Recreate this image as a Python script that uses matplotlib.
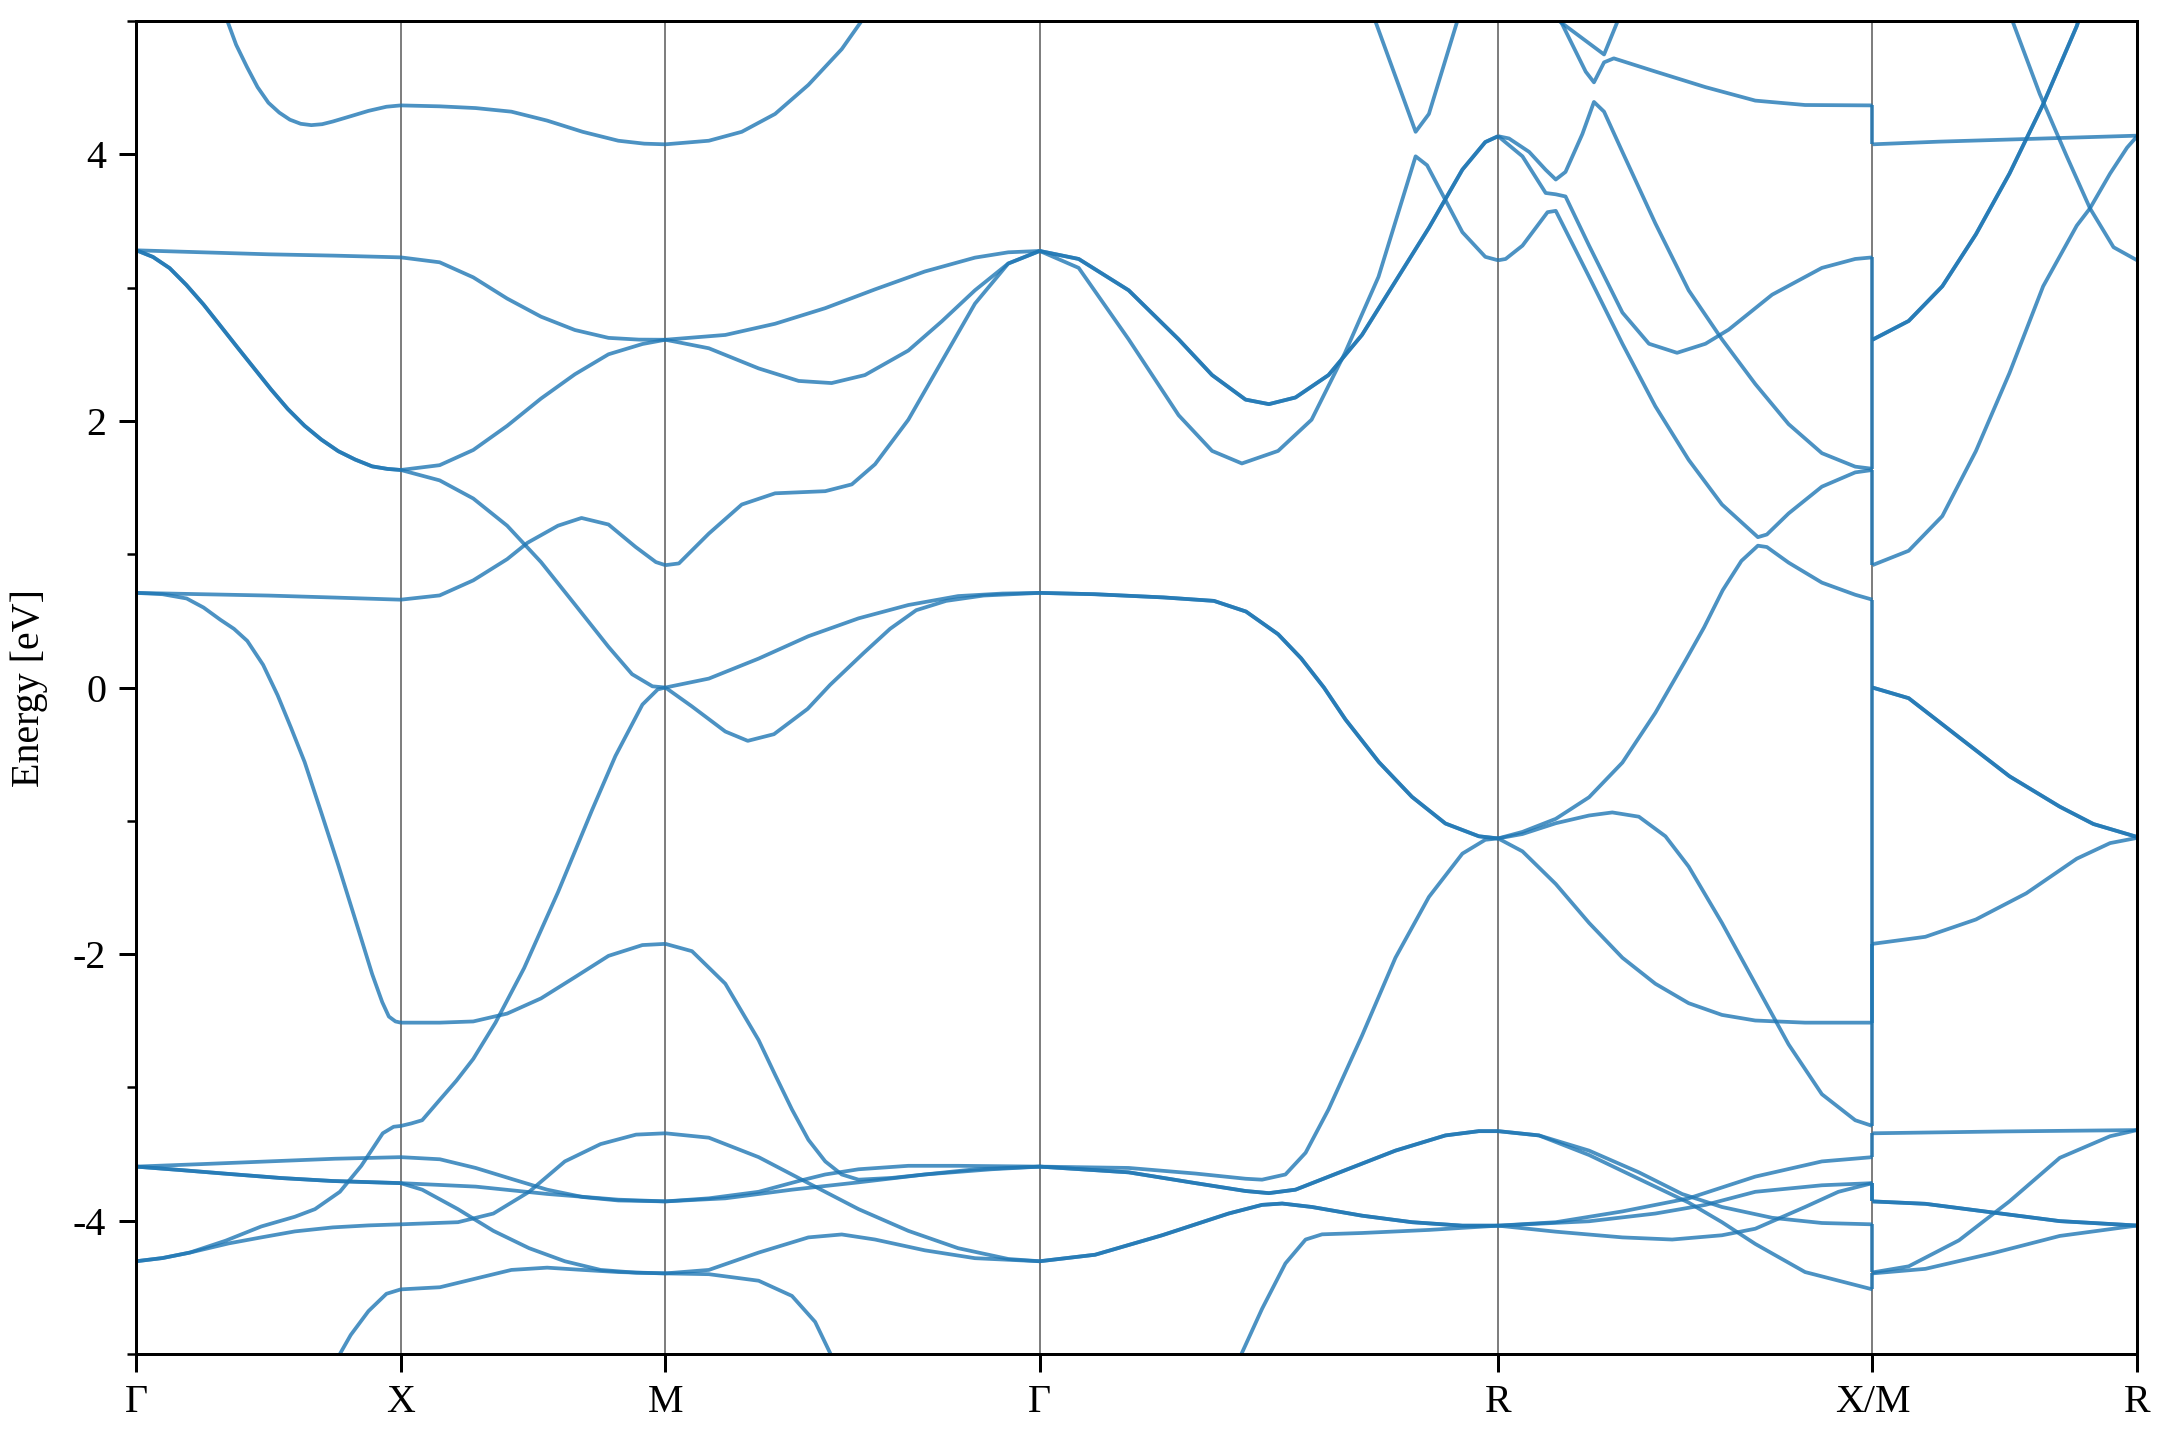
import numpy as np
import matplotlib.pyplot as plt
from matplotlib.ticker import MultipleLocator

plt.rcParams['font.family'] = ['Liberation Serif', 'DejaVu Serif']
plt.rcParams['axes.unicode_minus'] = False

# high symmetry path and segment lengths (1/a units)
labels = ['Γ', 'X', 'M', 'Γ', 'R', 'X/M', 'R']
seg_len = [0.5, 0.5, 0.7071, 0.8660, 0.7071, 0.5]

# each curve: [fraction along segment], [energy eV], number of overlapping bands
seg_GX = [
    ([0.32, 0.345, 0.378, 0.419, 0.459, 0.5, 0.541, 0.581, 0.622, 0.662, 0.703, 0.743, 0.811, 0.878, 0.946, 1.0],
     [5.12, 5.0, 4.822, 4.655, 4.504, 4.387, 4.313, 4.26, 4.229, 4.219, 4.226, 4.246, 4.286, 4.326, 4.357, 4.367], 1),
    ([0, 0.25, 0.5, 0.75, 1], [3.28, 3.265, 3.25, 3.24, 3.227], 1),
    ([0, 0.064, 0.127, 0.19, 0.255, 0.318, 0.382, 0.446, 0.51, 0.573, 0.637, 0.7, 0.764, 0.828, 0.892, 0.95, 1],
     [3.281, 3.23, 3.146, 3.02, 2.873, 2.715, 2.554, 2.395, 2.236, 2.09, 1.963, 1.86, 1.773, 1.71, 1.659, 1.64, 1.632], 2),
    ([0, 0.25, 0.5, 0.75, 1], [0.71, 0.70, 0.69, 0.675, 0.659], 1),
    ([0, 0.1, 0.191, 0.255, 0.318, 0.37, 0.42, 0.48, 0.535, 0.585, 0.637, 0.7, 0.764, 0.85, 0.892, 0.93, 0.955, 0.98, 1],
     [0.71, 0.70, 0.668, 0.6, 0.509, 0.44, 0.35, 0.17, -0.059, -0.3, -0.56, -0.94, -1.332, -1.88, -2.15, -2.36, -2.468, -2.505, -2.514], 1),
    ([0, 0.25, 0.5, 0.75, 1], [-3.594, -3.575, -3.555, -3.535, -3.523], 1),
    ([0, 0.17, 0.338, 0.55, 0.743, 1], [-3.594, -3.62, -3.647, -3.68, -3.702, -3.718], 2),
    ([0, 0.1, 0.203, 0.338, 0.473, 0.6, 0.676, 0.77, 0.851, 0.932, 0.973, 1],
     [-4.304, -4.28, -4.239, -4.15, -4.043, -3.97, -3.913, -3.783, -3.588, -3.344, -3.295, -3.289], 1),
    ([0, 0.1, 0.203, 0.35, 0.473, 0.6, 0.743, 0.878, 1],
     [-4.304, -4.28, -4.239, -4.17, -4.125, -4.08, -4.05, -4.035, -4.027], 1),
    ([0.74, 0.757, 0.811, 0.878, 0.946, 1], [-5.11, -5.045, -4.857, -4.678, -4.548, -4.515], 1),
]

seg_XM = [
    ([0, 0.148, 0.283, 0.418, 0.553, 0.687, 0.822, 0.92, 1], [4.367, 4.36, 4.347, 4.32, 4.253, 4.169, 4.102, 4.08, 4.075], 1),
    ([0, 0.147, 0.274, 0.402, 0.53, 0.658, 0.785, 0.9, 1], [3.227, 3.19, 3.077, 2.918, 2.782, 2.682, 2.623, 2.61, 2.609], 1),
    ([0, 0.147, 0.274, 0.402, 0.53, 0.658, 0.785, 0.913, 1], [1.632, 1.668, 1.782, 1.963, 2.168, 2.35, 2.5, 2.577, 2.609], 1),
    ([0, 0.147, 0.274, 0.402, 0.53, 0.658, 0.785, 0.874, 0.951, 1], [1.632, 1.554, 1.418, 1.214, 0.941, 0.623, 0.305, 0.1, 0.009, 0.0], 1),
    ([0, 0.147, 0.274, 0.402, 0.479, 0.594, 0.683, 0.785, 0.887, 0.964, 1],
     [0.659, 0.691, 0.804, 0.963, 1.086, 1.214, 1.272, 1.223, 1.055, 0.941, 0.918], 1),
    ([0, 0.147, 0.274, 0.402, 0.53, 0.658, 0.785, 0.913, 1], [-2.514, -2.514, -2.505, -2.446, -2.332, -2.173, -2.013, -1.932, -1.923], 1),
    ([0, 0.04, 0.081, 0.147, 0.21, 0.274, 0.358, 0.466, 0.594, 0.722, 0.811, 0.913, 0.971, 1],
     [-3.289, -3.27, -3.246, -3.094, -2.95, -2.786, -2.514, -2.105, -1.536, -0.923, -0.514, -0.128, -0.014, 0.0], 1),
    ([0, 0.148, 0.283, 0.418, 0.553, 0.687, 0.822, 1], [-3.523, -3.539, -3.604, -3.686, -3.767, -3.822, -3.848, -3.855], 1),
    ([0, 0.283, 0.553, 0.822, 1], [-3.718, -3.744, -3.799, -3.842, -3.855], 1),
    ([0, 0.081, 0.216, 0.35, 0.485, 0.62, 0.755, 0.889, 1], [-3.718, -3.767, -3.913, -4.076, -4.206, -4.304, -4.369, -4.39, -4.395], 1),
    ([0, 0.216, 0.35, 0.485, 0.62, 0.755, 0.889, 1], [-4.027, -4.011, -3.946, -3.783, -3.555, -3.425, -3.354, -3.344], 1),
    ([0, 0.148, 0.283, 0.418, 0.553, 0.687, 0.822, 1], [-4.515, -4.499, -4.434, -4.369, -4.352, -4.369, -4.385, -4.395], 1),
]

seg_MG = [
    ([0, 0.116, 0.204, 0.293, 0.382, 0.471, 0.524, 0.56], [4.075, 4.102, 4.169, 4.303, 4.521, 4.789, 5.0, 5.13], 1),
    ([0, 0.16, 0.293, 0.427, 0.56, 0.693, 0.827, 0.916, 1], [2.609, 2.645, 2.729, 2.846, 2.987, 3.121, 3.225, 3.265, 3.275], 1),
    ([0, 0.116, 0.249, 0.356, 0.444, 0.533, 0.649, 0.738, 0.827, 0.916, 1],
     [2.609, 2.545, 2.394, 2.30, 2.284, 2.344, 2.528, 2.746, 2.98, 3.181, 3.275], 1),
    ([0, 0.036, 0.116, 0.204, 0.293, 0.427, 0.498, 0.56, 0.649, 0.738, 0.827, 0.916, 1],
     [0.918, 0.931, 1.155, 1.373, 1.457, 1.473, 1.524, 1.675, 2.009, 2.445, 2.88, 3.181, 3.275], 1),
    ([0, 0.116, 0.249, 0.382, 0.516, 0.649, 0.782, 0.9, 1], [0.0, 0.067, 0.217, 0.385, 0.519, 0.619, 0.686, 0.705, 0.71], 1),
    ([0, 0.07, 0.16, 0.22, 0.29, 0.38, 0.44, 0.53, 0.6, 0.67, 0.75, 0.85, 1],
     [0.0, -0.14, -0.33, -0.40, -0.35, -0.16, 0.02, 0.26, 0.44, 0.58, 0.65, 0.69, 0.71], 1),
    ([0, 0.071, 0.16, 0.249, 0.293, 0.338, 0.382, 0.427, 0.471, 0.516, 0.604, 0.693, 0.827, 1],
     [-1.923, -1.978, -2.222, -2.645, -2.905, -3.165, -3.393, -3.555, -3.653, -3.692, -3.679, -3.653, -3.614, -3.594], 1),
    ([0, 0.116, 0.249, 0.356, 0.427, 0.516, 0.649, 0.782, 1], [-3.855, -3.832, -3.783, -3.702, -3.653, -3.614, -3.588, -3.588, -3.594], 1),
    ([0, 0.16, 0.338, 0.516, 0.693, 0.871, 1], [-3.855, -3.832, -3.767, -3.712, -3.653, -3.614, -3.594], 1),
    ([0, 0.116, 0.249, 0.382, 0.516, 0.649, 0.782, 0.916, 1], [-3.344, -3.377, -3.523, -3.718, -3.913, -4.076, -4.206, -4.287, -4.304], 1),
    ([0, 0.116, 0.249, 0.382, 0.471, 0.56, 0.693, 0.827, 1], [-4.395, -4.369, -4.239, -4.125, -4.103, -4.141, -4.222, -4.281, -4.304], 1),
    ([0, 0.116, 0.249, 0.338, 0.4, 0.449, 0.47], [-4.395, -4.401, -4.45, -4.564, -4.759, -5.045, -5.16], 1),
]

seg_GR = [
    ([0, 0.085, 0.194, 0.303, 0.376, 0.449, 0.5, 0.558, 0.63, 0.703, 0.776, 0.849, 0.922, 0.972, 1],
     [3.275, 3.215, 2.98, 2.612, 2.344, 2.16, 2.126, 2.176, 2.344, 2.645, 3.047, 3.449, 3.885, 4.092, 4.136], 2),
    ([0, 0.085, 0.194, 0.303, 0.376, 0.441, 0.52, 0.593, 0.666, 0.739, 0.82, 0.845, 0.922, 0.972, 1],
     [3.275, 3.148, 2.612, 2.043, 1.775, 1.681, 1.775, 2.009, 2.511, 3.081, 3.985, 3.918, 3.416, 3.231, 3.205], 1),
    ([0.72, 0.732, 0.82, 0.849, 0.911, 0.92], [5.11, 5.0, 4.169, 4.303, 5.0, 5.1], 1),
    ([0, 0.12, 0.27, 0.38, 0.45, 0.52, 0.57, 0.62, 0.667, 0.74, 0.812, 0.885, 0.958, 1],
     [0.71, 0.70, 0.676, 0.65, 0.57, 0.40, 0.22, 0.0, -0.24, -0.56, -0.82, -1.02, -1.116, -1.132], 2),
    ([0, 0.194, 0.34, 0.449, 0.485, 0.536, 0.58, 0.63, 0.703, 0.776, 0.849, 0.922, 0.972, 1],
     [-3.594, -3.604, -3.646, -3.685, -3.692, -3.653, -3.49, -3.165, -2.612, -2.027, -1.571, -1.246, -1.142, -1.132], 1),
    ([0, 0.194, 0.34, 0.449, 0.5, 0.558, 0.667, 0.776, 0.885, 0.958, 1],
     [-3.594, -3.637, -3.718, -3.777, -3.793, -3.767, -3.62, -3.474, -3.36, -3.328, -3.328], 2),
    ([0, 0.121, 0.267, 0.412, 0.485, 0.529, 0.594, 0.703, 0.812, 0.922, 1],
     [-4.304, -4.255, -4.109, -3.946, -3.881, -3.871, -3.897, -3.962, -4.011, -4.037, -4.037], 2),
    ([0.42, 0.434, 0.485, 0.536, 0.58, 0.616, 0.703, 0.849, 1], [-5.15, -5.045, -4.661, -4.32, -4.141, -4.102, -4.092, -4.069, -4.037], 1),
]

seg_RX = [
    ([0, 0.029, 0.083, 0.127, 0.154, 0.18, 0.225, 0.256, 0.283, 0.332, 0.42, 0.509, 0.598, 0.687, 0.776, 0.865, 0.954, 1],
     [4.136, 4.119, 4.018, 3.884, 3.811, 3.868, 4.152, 4.393, 4.32, 4.018, 3.482, 2.98, 2.612, 2.277, 1.976, 1.758, 1.657, 1.641], 1),
    ([0, 0.065, 0.127, 0.154, 0.18, 0.243, 0.332, 0.403, 0.478, 0.554, 0.616, 0.732, 0.865, 0.954, 1],
     [4.136, 3.985, 3.71, 3.70, 3.684, 3.315, 2.813, 2.579, 2.511, 2.579, 2.685, 2.947, 3.148, 3.215, 3.227], 1),
    ([0, 0.02, 0.065, 0.132, 0.154, 0.243, 0.332, 0.42, 0.509, 0.598, 0.694, 0.718, 0.776, 0.865, 0.954, 1],
     [3.205, 3.215, 3.315, 3.566, 3.576, 3.081, 2.579, 2.11, 1.708, 1.373, 1.128, 1.148, 1.306, 1.507, 1.614, 1.632], 1),
    ([0, 0.065, 0.154, 0.243, 0.332, 0.42, 0.5, 0.55, 0.6, 0.65, 0.694, 0.718, 0.776, 0.865, 0.954, 1],
     [-1.132, -1.083, -0.985, -0.823, -0.563, -0.19, 0.2, 0.45, 0.73, 0.95, 1.064, 1.054, 0.937, 0.787, 0.696, 0.659], 1),
    ([0.15, 0.163, 0.283, 0.318, 0.325], [5.07, 5.0, 4.749, 4.99, 5.1], 1),
    ([0.15, 0.167, 0.234, 0.256, 0.283, 0.309, 0.42, 0.554, 0.687, 0.82, 1],
     [5.1, 5.0, 4.62, 4.54, 4.69, 4.72, 4.621, 4.504, 4.403, 4.37, 4.367], 1),
    ([0, 0.065, 0.154, 0.243, 0.305, 0.376, 0.447, 0.509, 0.598, 0.687, 0.776, 0.865, 0.954, 1],
     [-1.132, -1.099, -1.018, -0.96, -0.937, -0.969, -1.116, -1.343, -1.766, -2.222, -2.677, -3.051, -3.246, -3.289], 1),
    ([0, 0.065, 0.154, 0.243, 0.332, 0.42, 0.509, 0.598, 0.687, 0.82, 1],
     [-1.132, -1.229, -1.474, -1.766, -2.027, -2.222, -2.368, -2.456, -2.498, -2.514, -2.514], 1),
    ([0, 0.109, 0.243, 0.376, 0.492, 0.598, 0.732, 0.865, 1], [-3.328, -3.36, -3.474, -3.637, -3.8, -3.897, -3.978, -4.017, -4.027], 1),
    ([0, 0.109, 0.243, 0.376, 0.509, 0.598, 0.687, 0.82, 1], [-3.328, -3.36, -3.507, -3.686, -3.864, -4.011, -4.174, -4.385, -4.515], 1),
    ([0, 0.154, 0.332, 0.509, 0.687, 0.865, 1], [-4.037, -4.011, -3.93, -3.832, -3.669, -3.555, -3.523], 1),
    ([0, 0.243, 0.42, 0.554, 0.687, 0.865, 1], [-4.037, -4.004, -3.946, -3.881, -3.783, -3.734, -3.718], 1),
    ([0, 0.154, 0.332, 0.465, 0.598, 0.687, 0.82, 0.909, 1], [-4.037, -4.082, -4.125, -4.141, -4.109, -4.06, -3.897, -3.783, -3.718], 1),
]

seg_MR = [
    ([0, 0.25, 0.5, 0.75, 1], [4.075, 4.095, 4.11, 4.125, 4.14], 1),
    ([0, 0.137, 0.264, 0.391, 0.518, 0.645, 0.772, 0.8], [2.609, 2.75, 3.01, 3.4, 3.856, 4.376, 4.962, 5.13], 2),
    ([0, 0.137, 0.264, 0.391, 0.518, 0.645, 0.772, 0.822, 0.898, 0.962, 1],
     [0.918, 1.026, 1.286, 1.774, 2.36, 3.01, 3.465, 3.595, 3.856, 4.05, 4.136], 1),
    ([0.51, 0.524, 0.632, 0.734, 0.822, 0.911, 1], [5.12, 5.027, 4.454, 3.986, 3.595, 3.303, 3.205], 1),
    ([0, 0.137, 0.327, 0.518, 0.708, 0.835, 1], [0.0, -0.08, -0.373, -0.666, -0.894, -1.024, -1.121], 2),
    ([0, 0.2, 0.391, 0.581, 0.772, 0.898, 1], [-1.923, -1.87, -1.74, -1.544, -1.284, -1.167, -1.128], 1),
    ([0, 0.5, 1], [-3.344, -3.33, -3.32], 1),
    ([0, 0.2, 0.454, 0.708, 1], [-3.855, -3.873, -3.938, -4.003, -4.036], 2),
    ([0, 0.137, 0.327, 0.518, 0.708, 0.898, 1], [-4.388, -4.342, -4.147, -3.854, -3.528, -3.366, -3.32], 1),
    ([0, 0.2, 0.454, 0.708, 1], [-4.395, -4.361, -4.244, -4.114, -4.036], 1),
]

segments = [seg_GX, seg_XM, seg_MG, seg_GR, seg_RX, seg_MR]
kpts = np.concatenate([[0], np.cumsum(seg_len)])

band_style = dict(color='#1f77b4', alpha=0.8, lw=1.5, solid_capstyle='butt', solid_joinstyle='round')

fig = plt.figure(figsize=(12, 8), dpi=180)
ax = fig.add_axes([0.063, 0.0597, 0.9264, 0.9257])

for k in kpts:
    ax.axvline(k, color='k', alpha=0.5, lw=0.8, zorder=1)

for i, seg in enumerate(segments):
    for t, e, n in seg:
        x = kpts[i] + seg_len[i] * np.array(t)
        for _ in range(n):
            ax.plot(x, e, zorder=2, **band_style)

# bands jump from X to M at the X/M break: join them in band order
x_ends = sorted(e[-1] for t, e, n in seg_RX if t[-1] == 1 for _ in range(n))
m_starts = sorted(e[0] for t, e, n in seg_MR if t[0] == 0 for _ in range(n))
for a, b in zip(x_ends, m_starts):
    ax.plot([kpts[5], kpts[5]], [a, b], zorder=2, **band_style)

ax.set_xlim(kpts[0], kpts[-1])
ax.set_ylim(-5, 5)
ax.set_xticks(kpts)
ax.set_xticklabels(labels)
ax.set_yticks([-4, -2, 0, 2, 4])
ax.yaxis.set_minor_locator(MultipleLocator(1))
ax.tick_params(which='major', direction='out', length=7, width=1.2, labelsize=16, pad=5)
ax.tick_params(which='minor', direction='out', length=3.5, width=1.0)
for sp in ax.spines.values():
    sp.set_linewidth(1.2)
ax.set_ylabel('Energy [eV]', fontsize=16, labelpad=10)

fig.savefig('out.png', dpi=180)
